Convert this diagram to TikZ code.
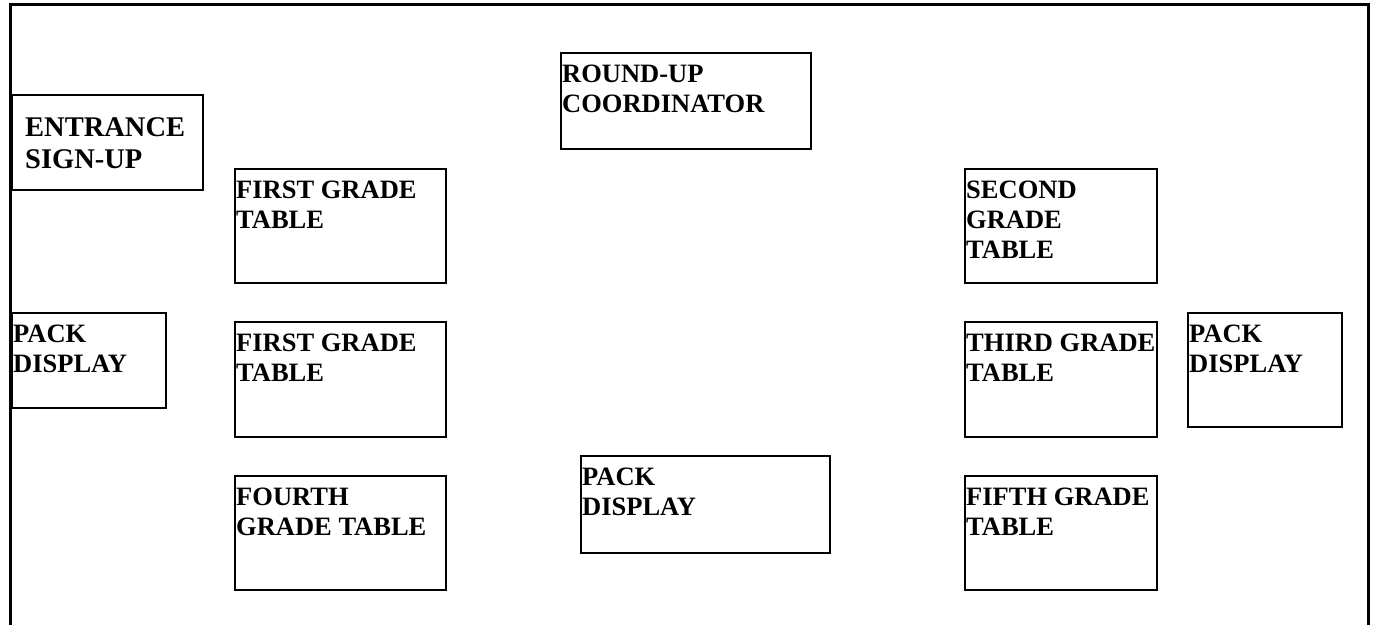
\documentclass[tikz,border=0pt]{standalone}
\usepackage{fontspec}
\setmainfont{Liberation Serif}
\begin{document}
\begin{tikzpicture}[x=1pt,y=-1pt,
  box/.style={draw=black,line width=2pt,outer sep=0pt,inner sep=0pt,anchor=north west},
  lbl/.style={anchor=north west,align=left,inner xsep=1pt,inner ysep=12pt,
    font=\bfseries\fontsize{26.5}{30}\selectfont},
  biglbl/.style={anchor=north west,align=left,inner xsep=13pt,inner ysep=22pt,
    font=\bfseries\fontsize{28.5}{32}\selectfont},
  frame/.style={draw=black,line width=3pt}]
\useasboundingbox (0,0) rectangle (1374,625);
% outer frame (open at the bottom)
\draw[frame] (10,625) -- (10,4) -- (1368,4) -- (1368,625);
% boxes
\node[box,minimum width=191pt,minimum height=95pt] (entr) at (12,95) {};
\node[biglbl] (entrT) at (entr.north west) {ENTRANCE\\SIGN-UP};
\node[box,minimum width=250pt,minimum height=96pt] (coord) at (561,53) {};
\node[lbl] (coordT) at (coord.north west) {ROUND-UP\\COORDINATOR};
\node[box,minimum width=211pt,minimum height=114pt] (first1) at (235,169) {};
\node[lbl] (first1T) at (first1.north west) {FIRST GRADE\\TABLE};
\node[box,minimum width=211pt,minimum height=115pt] (first2) at (235,322) {};
\node[lbl] (first2T) at (first2.north west) {FIRST GRADE\\TABLE};
\node[box,minimum width=211pt,minimum height=114pt] (fourth) at (235,476) {};
\node[lbl] (fourthT) at (fourth.north west) {FOURTH\\GRADE TABLE};
\node[box,minimum width=154pt,minimum height=95pt] (packL) at (12,313) {};
\node[lbl] (packLT) at (packL.north west) {PACK\\DISPLAY};
\node[box,minimum width=249pt,minimum height=97pt] (packC) at (581,456) {};
\node[lbl] (packCT) at (packC.north west) {PACK\\DISPLAY};
\node[box,minimum width=192pt,minimum height=114pt] (second) at (965,169) {};
\node[lbl] (secondT) at (second.north west) {SECOND\\GRADE\\TABLE};
\node[box,minimum width=192pt,minimum height=115pt] (third) at (965,322) {};
\node[lbl] (thirdT) at (third.north west) {THIRD GRADE\\TABLE};
\node[box,minimum width=192pt,minimum height=114pt] (fifth) at (965,476) {};
\node[lbl] (fifthT) at (fifth.north west) {FIFTH GRADE\\TABLE};
\node[box,minimum width=154pt,minimum height=114pt] (packR) at (1188,313) {};
\node[lbl] (packRT) at (packR.north west) {PACK\\DISPLAY};
\end{tikzpicture}
\end{document}
